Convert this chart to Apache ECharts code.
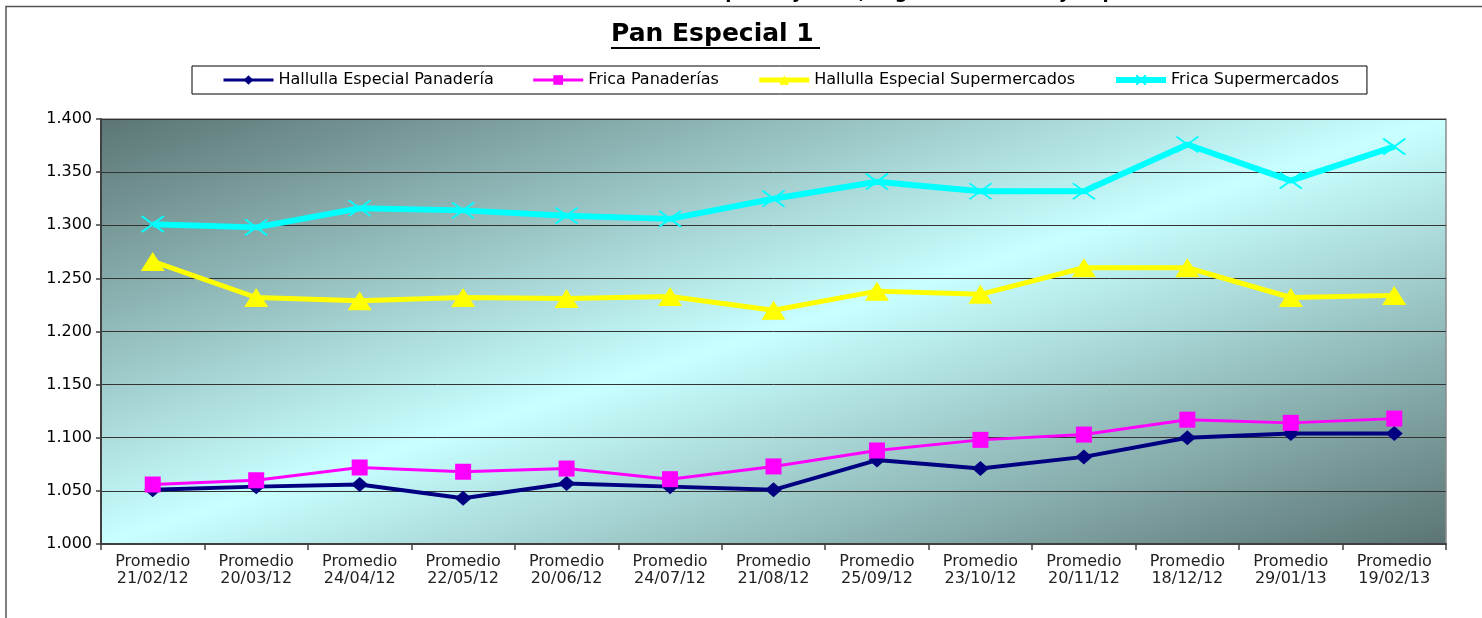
<!DOCTYPE html>
<html>
<head>
<meta charset="utf-8">
<script src="https://cdn.jsdelivr.net/npm/echarts@6/dist/echarts.min.js"></script>
<style>
  html, body { margin: 0; padding: 0; background: #fff; }
  #chart { width: 1482px; height: 618px; }
</style>
</head>
<body>
<div id="chart"></div>
<script>
// categorias (fechas de medicion)
var categories = ['Promedio\n21/02/12', 'Promedio\n20/03/12', 'Promedio\n24/04/12', 'Promedio\n22/05/12',
  'Promedio\n20/06/12', 'Promedio\n24/07/12', 'Promedio\n21/08/12', 'Promedio\n25/09/12',
  'Promedio\n23/10/12', 'Promedio\n20/11/12', 'Promedio\n18/12/12', 'Promedio\n29/01/13', 'Promedio\n19/02/13'];

var seriesNames = ['Hallulla Especial Panadería', 'Frica Panaderías', 'Hallulla Especial Supermercados', 'Frica Supermercados'];

var hallullaPanaderia = [1.051, 1.054, 1.056, 1.043, 1.057, 1.054, 1.051, 1.079, 1.071, 1.082, 1.100, 1.104, 1.104];
var fricaPanaderias = [1.056, 1.060, 1.072, 1.068, 1.071, 1.061, 1.073, 1.088, 1.098, 1.103, 1.117, 1.114, 1.118];
var hallullaSuper = [1.266, 1.232, 1.229, 1.232, 1.231, 1.233, 1.220, 1.238, 1.235, 1.260, 1.260, 1.232, 1.234];
var fricaSuper = [1.301, 1.298, 1.316, 1.314, 1.309, 1.306, 1.325, 1.341, 1.332, 1.332, 1.376, 1.342, 1.374];

var yMin = 1.0, yMax = 1.4, yStep = 0.05;

var font = 'DejaVu Sans';
var chart = echarts.init(document.getElementById('chart'));

// fondo degradado diagonal del area de trazado (oscuro en esquinas, claro al centro)
var bg = new echarts.graphic.LinearGradient(651, -55, 895, 717, [
  { offset: 0, color: '#5b7574' },
  { offset: 0.5, color: '#c8ffff' },
  { offset: 1, color: '#5b7574' }
], true);

var lineWidths = [3, 3, 5, 6];

var option = {
  animation: false,
  backgroundColor: '#ffffff',
  title: {
    text: 'Pan Especial 1',
    left: 611,
    top: 22,
    padding: 0,
    textStyle: { fontFamily: font, fontSize: 25, fontWeight: 'bold', color: '#000' }
  },
  graphic: [
    {
      type: 'text', left: 'center', top: -16, silent: true,
      style: { text: 'Evolución de Precios Nominales Pan Hallulla Especial y Frica, según Panaderías y Supermercados',
        font: 'bold 18px DejaVu Sans', fill: '#000' }
    },
    { type: 'polyline', silent: true, shape: { points: [[6, 618], [6, 6.5], [1482, 6.5]] },
      style: { stroke: '#555', lineWidth: 1.5, fill: null } },
    { type: 'line', silent: true, shape: { x1: 611, y1: 48, x2: 820, y2: 48 },
      style: { stroke: '#000', lineWidth: 2 } }
  ],
  legend: {
    data: seriesNames.map(function (n, i) {
      return { name: n, lineStyle: { width: lineWidths[i] } };
    }),
    left: 192,
    top: 66,
    padding: [6, 28, 6, 30],
    itemGap: 38,
    itemWidth: 50,
    itemHeight: 12,
    borderColor: '#000',
    borderWidth: 1,
    textStyle: { fontFamily: font, fontSize: 16, color: '#000' }
  },
  grid: {
    left: 101,
    right: 36,
    top: 119,
    bottom: 74,
    show: true,
    backgroundColor: bg,
    borderColor: '#8a8a8a',
    borderWidth: 1.5
  },
  xAxis: {
    type: 'category',
    data: categories,
    boundaryGap: true,
    axisLine: { lineStyle: { color: '#404040', width: 2 } },
    axisTick: { show: true, length: 6, lineStyle: { color: '#404040', width: 1.5 } },
    axisLabel: { fontFamily: font, fontSize: 16, color: '#222', lineHeight: 17, margin: 9, interval: 0 }
  },
  yAxis: {
    type: 'value',
    min: yMin,
    max: yMax,
    interval: yStep,
    axisLine: { show: true, lineStyle: { color: '#404040', width: 2 } },
    axisTick: { show: true, length: 5, lineStyle: { color: '#404040', width: 1.5 } },
    axisLabel: { fontFamily: font, fontSize: 16, color: '#000', margin: 9,
      formatter: function (v) { return v.toFixed(3); } },
    splitLine: { lineStyle: { color: '#333', width: 1 } }
  },
  series: [
    {
      name: seriesNames[0], type: 'line', data: hallullaPanaderia,
      symbol: 'diamond', symbolSize: [17, 15],
      lineStyle: { color: '#000080', width: 4 },
      itemStyle: { color: '#000080' }
    },
    {
      name: seriesNames[1], type: 'line', data: fricaPanaderias,
      symbol: 'rect', symbolSize: 16,
      lineStyle: { color: '#ff00ff', width: 3 },
      itemStyle: { color: '#ff00ff' }
    },
    {
      name: seriesNames[2], type: 'line', data: hallullaSuper,
      symbol: 'triangle', symbolSize: [24, 19],
      lineStyle: { color: '#ffff00', width: 5 },
      itemStyle: { color: '#ffff00' }
    },
    {
      name: seriesNames[3], type: 'line', data: fricaSuper,
      symbol: 'path://M0 0L10 10M10 0L0 10', symbolSize: [22, 16],
      lineStyle: { color: '#00ffff', width: 6 },
      itemStyle: { color: '#00ffff', borderColor: '#00ffff', borderWidth: 2 }
    }
  ]
};

chart.setOption(option);
window.addEventListener('resize', function () { chart.resize(); });
</script>
</body>
</html>
